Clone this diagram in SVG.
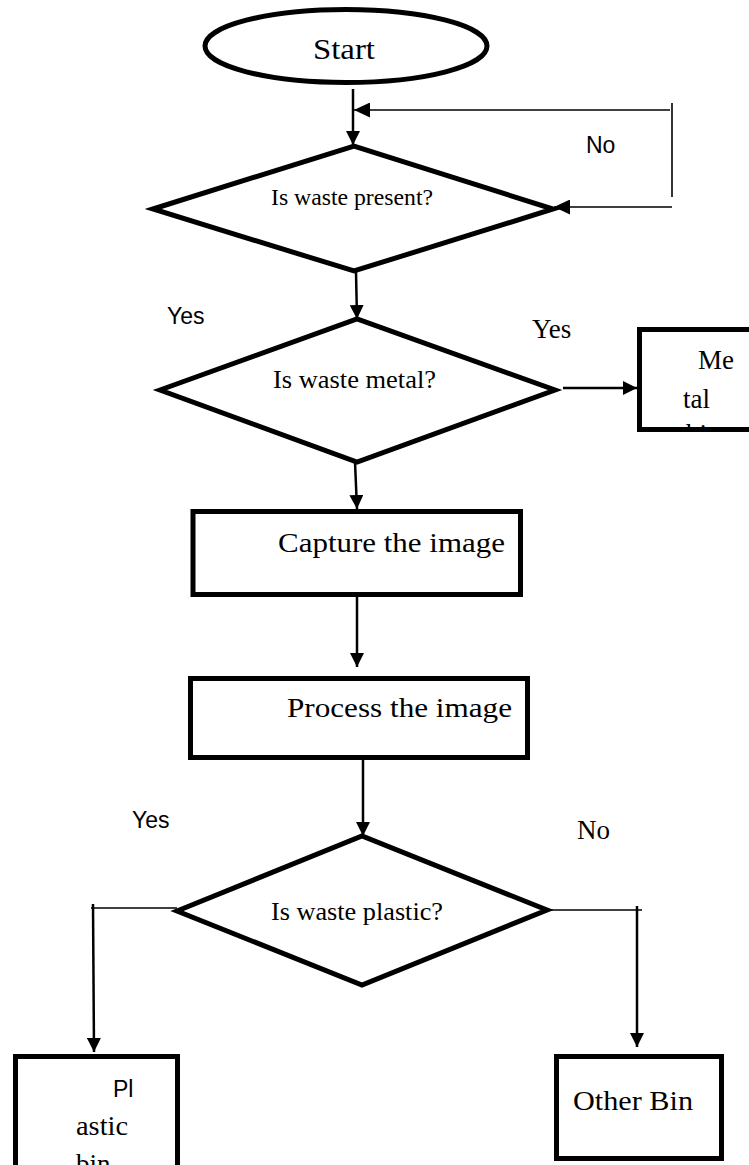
<svg xmlns="http://www.w3.org/2000/svg" width="749" height="1165" viewBox="0 0 749 1165">
<style>
.shape{fill:#fff;stroke:#000;stroke-width:5;stroke-linejoin:miter}
.ln{fill:none;stroke:#000;stroke-width:2.5}
.thin{fill:none;stroke:#000;stroke-width:1.6}
.serif{font-family:"Liberation Serif","Times New Roman",serif;fill:#000}
.sans{font-family:"Liberation Sans",Arial,sans-serif;fill:#000}
</style>
<defs>
<marker id="ah" viewBox="0 0 14 14" refX="14" refY="7" markerWidth="14" markerHeight="14" markerUnits="userSpaceOnUse" orient="auto">
<path d="M0,0 L14,7 L0,14 z" fill="#000"/>
</marker>
<marker id="ahw" viewBox="0 0 16 15" refX="16" refY="7.5" markerWidth="16" markerHeight="15" markerUnits="userSpaceOnUse" orient="auto">
<path d="M0,0 L16,7.5 L0,15 z" fill="#000"/>
</marker>
<clipPath id="metalClip"><rect x="642" y="332" width="107" height="98"/></clipPath>
<clipPath id="plasticClip"><rect x="18" y="1059" width="157" height="106"/></clipPath>
</defs>

<g id="connectors">
<line class="ln" x1="353" y1="89" x2="353" y2="145" marker-end="url(#ah)"/>
<line class="thin" x1="670" y1="110" x2="354" y2="110" stroke-width="2" marker-end="url(#ahw)"/>
<line class="thin" x1="672" y1="103" x2="672" y2="197" stroke-width="2"/>
<line class="thin" x1="672" y1="207" x2="554" y2="207" stroke-width="2" marker-end="url(#ahw)"/>
<line class="ln" x1="356" y1="272" x2="357" y2="319" marker-end="url(#ah)"/>
<line class="ln" x1="563" y1="388" x2="637" y2="388" marker-end="url(#ah)"/>
<line class="ln" x1="355" y1="462" x2="357" y2="509" marker-end="url(#ah)"/>
<line class="ln" x1="357" y1="597" x2="357" y2="667" marker-end="url(#ah)"/>
<line class="ln" x1="363" y1="760" x2="363" y2="836" marker-end="url(#ah)"/>
<line class="thin" x1="177" y1="908" x2="91" y2="908"/>
<line class="ln" x1="93" y1="904" x2="94" y2="1052" marker-end="url(#ah)"/>
<line class="thin" x1="547" y1="910" x2="642" y2="910"/>
<line class="ln" x1="637" y1="906" x2="637" y2="1047" marker-end="url(#ah)"/>
</g>

<g id="labels">
<text class="sans" x="586" y="153" font-size="23">No</text>
<text class="sans" x="167" y="324" font-size="23">Yes</text>
<text class="serif" x="532" y="338" font-size="27">Yes</text>
<text class="sans" x="132" y="828" font-size="23">Yes</text>
<text class="serif" x="577" y="839" font-size="27">No</text>
</g>

<g id="start">
<ellipse class="shape" cx="346" cy="46" rx="141" ry="36.5"/>
<text class="serif" x="313" y="59" font-size="29" textLength="62" lengthAdjust="spacingAndGlyphs">Start</text>
</g>

<g id="waste-present">
<polygon class="shape" points="153,209 354,146 553,209 354,271"/>
<text class="serif" x="271" y="205" font-size="24" textLength="162" lengthAdjust="spacingAndGlyphs">Is waste present?</text>
</g>

<g id="waste-metal">
<polygon class="shape" points="160,390 357,319 555,390 357,462"/>
<text class="serif" x="273" y="388" font-size="25" textLength="163" lengthAdjust="spacingAndGlyphs">Is waste metal?</text>
</g>

<g id="metal-bin">
<g clip-path="url(#metalClip)">
<text class="serif" x="698" y="369" font-size="27">Me</text>
<text class="serif" x="683" y="408" font-size="27">tal</text>
<text class="serif" x="686" y="443" font-size="27">bin</text>
</g>
<rect x="639.5" y="329.5" width="130" height="100" fill="none" stroke="#000" stroke-width="5"/>
</g>

<g id="capture">
<rect class="shape" x="193" y="511.5" width="327.5" height="83"/>
<text class="serif" x="278" y="552" font-size="27" textLength="227" lengthAdjust="spacingAndGlyphs">Capture the image</text>
</g>

<g id="process">
<rect class="shape" x="190.5" y="678.5" width="337" height="79"/>
<text class="serif" x="287" y="717" font-size="27" textLength="225" lengthAdjust="spacingAndGlyphs">Process the image</text>
</g>

<g id="waste-plastic">
<polygon class="shape" points="177,911 362,836 547,910 362,985"/>
<text class="serif" x="271" y="920" font-size="25" textLength="172" lengthAdjust="spacingAndGlyphs">Is waste plastic?</text>
</g>

<g id="plastic-bin">
<rect class="shape" x="15.5" y="1056.5" width="162" height="150"/>
<g clip-path="url(#plasticClip)">
<text class="sans" x="113" y="1097" font-size="23">Pl</text>
<text class="serif" x="76" y="1135" font-size="27" textLength="52" lengthAdjust="spacingAndGlyphs">astic</text>
<text class="serif" x="76" y="1173" font-size="27">bin</text>
</g>
</g>

<g id="other-bin">
<rect class="shape" x="556.5" y="1056.5" width="165" height="102"/>
<text class="serif" x="573" y="1110" font-size="27" textLength="120" lengthAdjust="spacingAndGlyphs">Other Bin</text>
</g>
</svg>
